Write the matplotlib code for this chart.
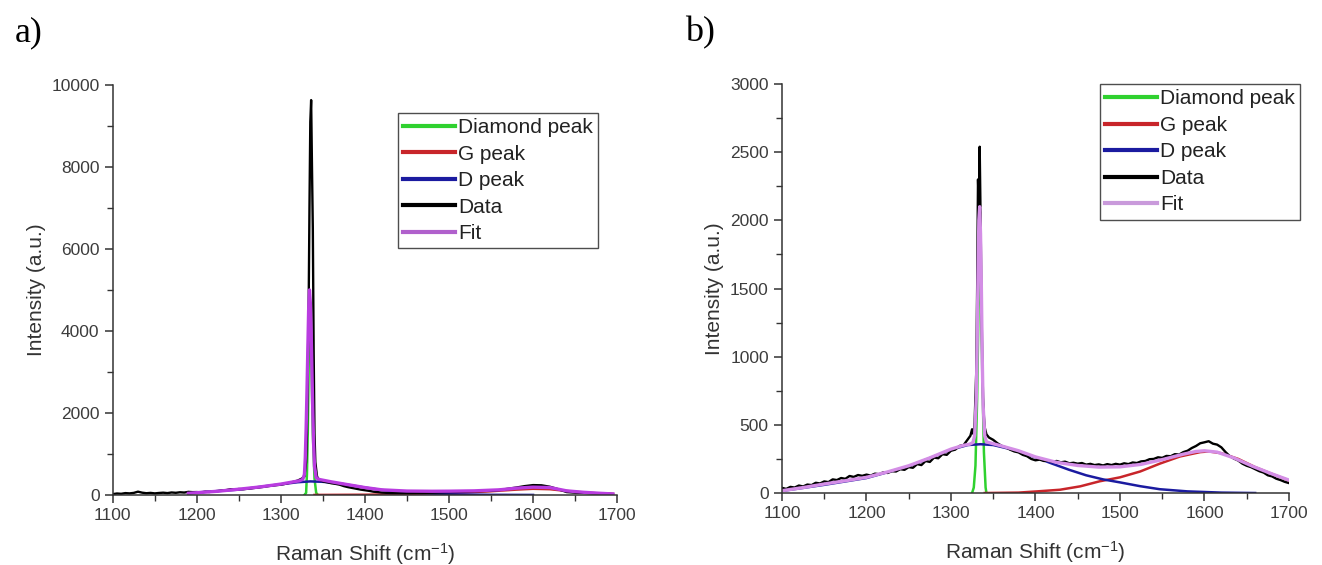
import matplotlib
matplotlib.use("Agg")
import matplotlib.pyplot as plt
from matplotlib.ticker import MultipleLocator

plt.rcParams['font.family'] = ['Liberation Sans', 'DejaVu Sans']
plt.rcParams['mathtext.fontset'] = 'custom'
plt.rcParams['mathtext.rm'] = 'Liberation Sans'
plt.rcParams['mathtext.it'] = 'Liberation Sans'

# ---------------- panel a ----------------
a_data_x = [1100, 1105, 1110, 1115, 1120, 1125, 1130, 1135, 1140, 1145, 1150, 1155, 1160, 1165,
            1170, 1175, 1180, 1185, 1190, 1195, 1200, 1205, 1210, 1215, 1220, 1225, 1230, 1235,
            1240, 1245, 1250, 1255, 1260, 1265, 1270, 1275, 1280, 1285, 1290, 1295, 1300, 1305,
            1310, 1315, 1320, 1325, 1328, 1330, 1331, 1332, 1333, 1334, 1335, 1336, 1337, 1338,
            1339, 1340, 1341, 1343, 1345, 1350, 1355, 1360, 1365, 1370, 1375, 1380, 1385, 1390,
            1395, 1400, 1405, 1410, 1415, 1420, 1425, 1430, 1440, 1450, 1460, 1470, 1480, 1490,
            1500, 1510, 1520, 1530, 1540, 1550, 1560, 1570, 1580, 1590, 1600, 1610, 1620, 1630,
            1640, 1650, 1660, 1670, 1680, 1690, 1695]
a_data_y = [20, 35, 28, 45, 38, 50, 80, 55, 42, 50, 38, 48, 55, 45,
            60, 52, 65, 58, 75, 68, 70, 62, 78, 72, 88, 95, 110, 118,
            140, 132, 145, 140, 150, 160, 175, 185, 200, 215, 230, 240, 250, 270,
            295, 320, 350, 400, 450, 800, 1500, 3000, 4500, 7000, 9100, 9630, 8000, 6500,
            3500, 1500, 800, 450, 380, 330, 310, 285, 270, 250, 215, 190, 170, 150,
            130, 115, 100, 80, 70, 58, 52, 45, 42, 40, 45, 50, 55, 62,
            70, 75, 80, 88, 95, 100, 120, 150, 180, 215, 240, 235, 200, 140,
            70, 55, 50, 40, 35, 28, 20]

a_fit_x = [1190, 1200, 1225, 1250, 1275, 1300, 1315, 1322, 1326, 1328, 1329, 1330, 1331, 1332,
           1333, 1334, 1335, 1336, 1337, 1338, 1339, 1340, 1342, 1345, 1360, 1380, 1400, 1420,
           1450, 1480, 1500, 1530, 1560, 1580, 1600, 1620, 1640, 1660, 1680, 1695]
a_fit_y = [40, 55, 90, 140, 195, 265, 320, 345, 380, 500, 900, 1600, 2500, 3500,
           4500, 5000, 4700, 4000, 3000, 2000, 1200, 700, 420, 380, 320, 250, 180, 125,
           95, 90, 92, 100, 125, 165, 190, 180, 100, 65, 40, 25]

a_diam_x = [1328, 1330, 1331, 1332, 1333, 1334, 1335, 1336, 1337, 1338, 1340, 1342, 1344]
a_diam_y = [0, 50, 500, 1500, 3000, 4600, 4400, 3500, 2500, 1500, 400, 50, 0]

a_d_x = [1190, 1200, 1250, 1280, 1300, 1320, 1335, 1350, 1370, 1400, 1420, 1450, 1500, 1550, 1600]
a_d_y = [45, 60, 130, 210, 260, 310, 330, 320, 280, 180, 120, 60, 15, 3, 0]

a_g_x = [1340, 1400, 1450, 1500, 1550, 1580, 1600, 1620, 1650, 1680, 1695]
a_g_y = [0, 5, 20, 45, 90, 130, 150, 140, 75, 35, 25]

# ---------------- panel b ----------------
b_data_x = [1100, 1105, 1110, 1115, 1120, 1125, 1130, 1135, 1140, 1145, 1150, 1155, 1160, 1165,
            1170, 1175, 1180, 1185, 1190, 1195, 1200, 1205, 1210, 1215, 1220, 1225, 1230, 1235,
            1240, 1245, 1250, 1255, 1260, 1265, 1270, 1275, 1280, 1285, 1290, 1295, 1300, 1305,
            1310, 1315, 1320, 1323, 1325, 1327, 1328, 1329, 1330, 1331, 1332, 1333, 1334, 1335,
            1336, 1337, 1338, 1339, 1340, 1342, 1345, 1350, 1355, 1360, 1365, 1370, 1375, 1380,
            1385, 1390, 1395, 1400, 1405, 1410, 1415, 1420, 1425, 1430, 1435, 1440, 1445, 1450,
            1455, 1460, 1465, 1470, 1475, 1480, 1485, 1490, 1495, 1500, 1505, 1510, 1515, 1520,
            1525, 1530, 1535, 1540, 1545, 1550, 1555, 1560, 1565, 1570, 1575, 1580, 1585, 1590,
            1595, 1600, 1605, 1610, 1615, 1620, 1625, 1630, 1635, 1640, 1645, 1650, 1655, 1660,
            1665, 1670, 1675, 1680, 1685, 1690, 1695, 1700]
b_data_y = [38, 30, 45, 40, 55, 48, 62, 58, 75, 70, 85, 80, 100, 95,
            110, 104, 125, 118, 132, 126, 135, 128, 142, 138, 152, 147, 160, 158,
            175, 170, 190, 185, 212, 205, 235, 228, 260, 255, 285, 280, 310, 318,
            345, 352, 395, 420, 468, 430, 520, 700, 900, 1500, 2300, 2100, 2540, 2050,
            1450, 1000, 700, 560, 480, 430, 407, 390, 365, 346, 335, 318, 305, 298,
            280, 270, 250, 240, 245, 235, 238, 228, 235, 225, 230, 218, 222, 215,
            220, 208, 214, 205, 210, 202, 212, 205, 214, 208, 218, 212, 224, 220,
            232, 235, 248, 250, 262, 258, 272, 270, 285, 282, 300, 310, 330, 345,
            365, 372, 380, 362, 355, 335, 300, 270, 252, 238, 215, 200, 190, 175,
            160, 150, 130, 122, 105, 95, 82, 73]

b_fit_x = [1100, 1125, 1150, 1175, 1200, 1225, 1250, 1275, 1300, 1315, 1322, 1326, 1328, 1330,
           1331, 1332, 1333, 1334, 1335, 1336, 1337, 1338, 1340, 1342, 1345, 1360, 1380, 1400,
           1425, 1450, 1475, 1500, 1525, 1550, 1575, 1590, 1600, 1615, 1635, 1657, 1680, 1700]
b_fit_y = [17, 40, 66, 90, 115, 155, 200, 258, 322, 350, 358, 370, 420, 700,
           1100, 1600, 2000, 2100, 1900, 1500, 1000, 650, 420, 375, 370, 345, 310, 265,
           225, 202, 190, 192, 210, 245, 285, 305, 310, 300, 257, 196, 140, 95]

b_diam_x = [1325, 1327, 1329, 1331, 1332, 1333, 1334, 1335, 1336, 1337, 1339, 1341, 1342]
b_diam_y = [0, 40, 200, 700, 1100, 1500, 1740, 1600, 1300, 900, 300, 40, 0]

b_d_x = [1100, 1150, 1200, 1250, 1300, 1320, 1335, 1350, 1375, 1400, 1420, 1440, 1460, 1480,
         1500, 1524, 1547, 1580, 1620, 1660]
b_d_y = [15, 60, 110, 195, 318, 352, 358, 352, 315, 262, 215, 170, 130, 100,
         78, 50, 28, 12, 3, 0]

b_g_x = [1340, 1380, 1402, 1429, 1453, 1476, 1500, 1524, 1547, 1571, 1595, 1605, 1620, 1640,
         1660, 1680, 1700]
b_g_y = [0, 3, 12, 24, 49, 86, 115, 158, 215, 268, 300, 305, 292, 250,
         190, 140, 92]

labels = ['Diamond peak', 'G peak', 'D peak', 'Data', 'Fit']
green = '#2fd12f'
red = '#c8252a'
blue = '#1b1ba0'
black = '#000000'

fig = plt.figure(figsize=(13.22, 5.65), dpi=100)
ax_a = fig.add_axes([0.0853, 0.124, 0.3815, 0.7257])
ax_b = fig.add_axes([0.5915, 0.1274, 0.3835, 0.7239])


def draw(ax, data, fit, diam, dpk, gpk, fit_color, leg_fit_color, ymax, ystep, yminor, leg_pos):
    ax.plot(diam[0], diam[1], color=green, lw=1.8, label=labels[0])
    ax.plot(gpk[0], gpk[1], color=red, lw=1.8, label=labels[1])
    ax.plot(dpk[0], dpk[1], color=blue, lw=1.8, label=labels[2])
    ax.plot(data[0], data[1], color=black, lw=1.7, label=labels[3])
    ax.plot(fit[0], fit[1], color=fit_color, lw=2.4, label=labels[4])

    ax.set_xlim(1100, 1700)
    ax.set_ylim(0, ymax)
    ax.xaxis.set_major_locator(MultipleLocator(100))
    ax.xaxis.set_minor_locator(MultipleLocator(50))
    ax.yaxis.set_major_locator(MultipleLocator(ystep))
    ax.yaxis.set_minor_locator(MultipleLocator(yminor))
    for s in ['top', 'right']:
        ax.spines[s].set_visible(False)
    for s in ['left', 'bottom']:
        ax.spines[s].set_color('#333333')
        ax.spines[s].set_linewidth(1.1)
    ax.tick_params(which='major', direction='out', length=6, width=1.1, color='#333333',
                   labelsize=12.5, labelcolor='#3c3c3c')
    ax.tick_params(which='minor', direction='out', length=4, width=1.0, color='#333333')
    ax.set_xlabel('Raman Shift (cm$^{-1}$)', fontsize=15, color='#333333', labelpad=13)
    ax.set_ylabel('Intensity (a.u.)', fontsize=15, color='#333333', labelpad=4)

    leg = ax.legend(loc='upper left', bbox_to_anchor=leg_pos, bbox_transform=fig.transFigure,
                    fontsize=15, frameon=True, fancybox=False, edgecolor='#222222',
                    borderpad=0.25, handlelength=2.5, handletextpad=0.15, labelspacing=0.36,
                    borderaxespad=0)
    leg.get_frame().set_linewidth(1.0)
    for line in leg.get_lines():
        line.set_linewidth(3)
    leg.get_lines()[4].set_color(leg_fit_color)
    for t in leg.get_texts():
        t.set_color('#222222')


draw(ax_a, (a_data_x, a_data_y), (a_fit_x, a_fit_y), (a_diam_x, a_diam_y), (a_d_x, a_d_y),
     (a_g_x, a_g_y), '#b93ce0', '#b060cc', 10000, 2000, 1000, (0.301, 0.800))
draw(ax_b, (b_data_x, b_data_y), (b_fit_x, b_fit_y), (b_diam_x, b_diam_y), (b_d_x, b_d_y),
     (b_g_x, b_g_y), '#d48ee6', '#c99adb', 3000, 500, 250, (0.832, 0.851))

fig.text(0.011, 0.942, 'a)', fontsize=26, family=['Liberation Serif', 'DejaVu Serif'], va='center')
fig.text(0.518, 0.942, 'b)', fontsize=26, family=['Liberation Serif', 'DejaVu Serif'], va='center')

fig.savefig('out.png', dpi=100)
